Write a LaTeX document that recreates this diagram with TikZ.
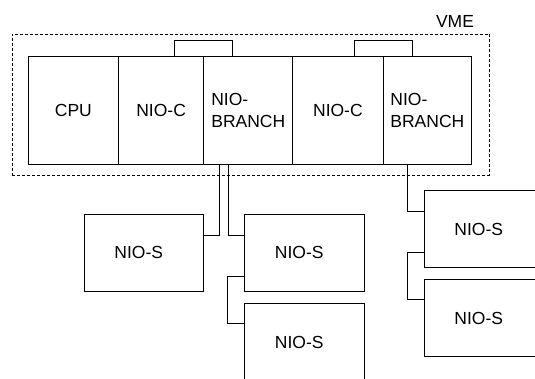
\documentclass[tikz,border=0pt]{standalone}
\usepackage{fontspec}
\setmainfont{Liberation Sans}
\newcommand{\nioFont}{\fontsize{17.5}{22}\selectfont}
\tikzset{
  slot/.style={draw, minimum height=107.3pt, inner sep=0pt, outer sep=0pt,
               anchor=north west, font=\nioFont, align=left},
  niobox/.style={draw, minimum width=119.5pt, minimum height=77pt, inner sep=0pt,
                 outer sep=0pt, anchor=north west},
  niotext/.style={font=\nioFont, xshift=-5pt},
  vmeframe/.style={draw, dash pattern=on 3pt off 2pt, inner sep=0pt, outer sep=0pt,
                   anchor=north west, minimum width=477.3pt, minimum height=141pt},
}

\begin{document}
\begin{tikzpicture}[x=1pt, y=-1pt, line width=0.8pt]
    \useasboundingbox (0,0) rectangle (535,378);
    \clip (0,0) rectangle (535,378);

    \node[vmeframe] (vme) at (12,34) {};
    \node[font=\nioFont] (vmelabel) at (455,21) {VME};

    \node[slot, minimum width=90.1pt] (cpu) at (28.3,56.7) {CPU};
    \node[slot, minimum width=85.4pt] (nioc1) at (cpu.north east) {NIO-C};
    \node[slot, minimum width=89pt] (br1) at (nioc1.north east) {NIO-\\BRANCH};
    \node[slot, minimum width=90.2pt] (nioc2) at (br1.north east) {NIO-C};
    \node[slot, minimum width=88.7pt] (br2) at (nioc2.north east) {NIO-\\BRANCH};

    \node[niobox, label={[niotext]center:NIO-S}] (sl) at (84,214.3) {};
    \node[niobox, label={[niotext]center:NIO-S}] (sm1) at (244.5,214.3) {};
    \node[niobox, label={[niotext]center:NIO-S}] (sm2) at (244.5,303.5) {};
    \node[niobox, label={[niotext]center:NIO-S}] (sr1) at (424,190.7) {};
    \node[niobox, label={[niotext]center:NIO-S}] (sr2) at (424,279.5) {};

    \draw ([xshift=-29pt]nioc1.north east) -- ++(0,-16.7) -| ([xshift=29pt]br1.north west);
    \draw ([xshift=-29pt]nioc2.north east) -- ++(0,-16.7) -| ([xshift=29pt]br2.north west);

    \draw ([xshift=16pt]br1.south west) |- ([yshift=-21pt]sl.north east);
    \draw ([xshift=25pt]br1.south west) |- ([yshift=-21pt]sm1.north west);
    \draw ([yshift=15pt]sm1.south west) -- ++(-17,0) |- ([yshift=-20pt]sm2.north west);

    \draw ([xshift=24.3pt]br2.south west) |- ([yshift=-20.8pt]sr1.north west);
    \draw ([yshift=15.3pt]sr1.south west) -- ++(-16.7,0) |- ([yshift=-19.8pt]sr2.north west);
\end{tikzpicture}
\end{document}
